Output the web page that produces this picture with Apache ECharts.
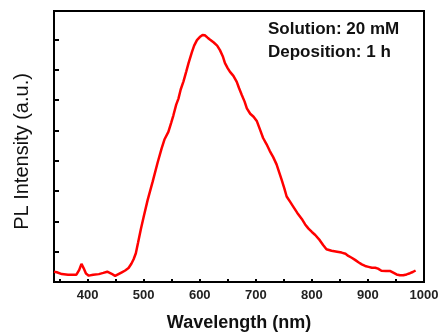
<!DOCTYPE html>
<html>
<head>
<meta charset="utf-8">
<script src="https://cdn.jsdelivr.net/npm/echarts@6/dist/echarts.min.js"></script>
<style>html,body{margin:0;padding:0;background:#fff}#c{width:441px;height:332px}</style>
</head>
<body>
<div id="c"></div>
<script>
const wavelength = [340,345,354,365,380,385,389,393,397,402,410,420,428,435,442,449,455,461,467,473,478,482,486,490,495,500,507,516,525,532,537,544,549,553,558,562,566,571,576,580,586,590,595,600,605,609,614,618,625,631,636,641,645,650,654,660,666,670,675,680,684,690,696,702,708,713,719,725,731,737,742,746,751,755,761,767,774,782,788,794,800,806,814,820,826,835,845,853,860,865,871,877,883,889,895,901,907,913,918,924,932,940,946,951,957,963,969,975,980,985];
const intensity = [0.34,0.32,0.26,0.24,0.24,0.4,0.6,0.45,0.28,0.21,0.24,0.26,0.3,0.34,0.28,0.2,0.26,0.32,0.38,0.46,0.6,0.75,0.95,1.3,1.75,2.15,2.7,3.31,3.95,4.41,4.7,4.95,5.25,5.5,5.85,6.05,6.35,6.62,6.95,7.22,7.58,7.8,7.98,8.08,8.15,8.14,8.06,8.0,7.9,7.8,7.65,7.45,7.22,7.05,6.93,6.8,6.6,6.4,6.17,5.95,5.73,5.55,5.45,5.3,5.0,4.75,4.55,4.32,4.12,3.88,3.6,3.38,3.08,2.82,2.65,2.48,2.28,2.08,1.9,1.76,1.65,1.55,1.38,1.22,1.08,1.03,1.0,0.97,0.93,0.86,0.8,0.73,0.65,0.58,0.53,0.5,0.47,0.47,0.44,0.37,0.36,0.36,0.3,0.25,0.22,0.22,0.25,0.29,0.33,0.38];
const xTitle = 'Wavelength (nm)';
const yTitle = 'PL Intensity (a.u.)';
const notes = ['Solution: 20 mM', 'Deposition: 1 h'];

const chart = echarts.init(document.getElementById('c'), null, {renderer: 'canvas'});
const font = '"Liberation Sans", Arial, sans-serif';
chart.setOption({
  animation: false,
  grid: {left: 54, right: 17, top: 11, bottom: 50, outerBoundsMode: 'none', containLabel: false,
         show: true, borderColor: '#000', borderWidth: 2, backgroundColor: 'transparent'},
  xAxis: {
    type: 'value', min: 340, max: 1000, minInterval: 50, maxInterval: 50,
    axisLine: {show: true, onZero: false, lineStyle: {color: '#000', width: 2}},
    axisTick: {show: true, inside: true, length: 3, lineStyle: {color: '#000', width: 2}},
    splitLine: {show: false},
    axisLabel: {
      color: '#222', fontFamily: font, fontWeight: 'bold', fontSize: 13, margin: 7,
      showMinLabel: false,
      formatter: v => (v % 100 === 0 ? String(v) : '')
    },
    name: xTitle, nameLocation: 'middle', nameGap: 32,
    nameTextStyle: {color: '#111', fontFamily: font, fontWeight: 'bold', fontSize: 18, verticalAlign: 'top'}
  },
  yAxis: {
    type: 'value', min: 0, max: 8.94, minInterval: 1, maxInterval: 1,
    axisLine: {show: true, lineStyle: {color: '#000', width: 2}},
    axisTick: {show: true, inside: true, length: 5, lineStyle: {color: '#000', width: 2}},
    axisLabel: {show: false},
    splitLine: {show: false},
    name: yTitle, nameLocation: 'middle', nameGap: 22, nameRotate: 90,
    nameTextStyle: {color: '#111', fontFamily: font, fontSize: 20, padding: [0, 10, 0, 0]}
  },
  series: [{
    type: 'line', data: wavelength.map((w, i) => [w, intensity[i]]),
    showSymbol: false, smooth: false,
    lineStyle: {color: '#ff0000', width: 2.5}
  }],
  graphic: [
    {type: 'text', left: 268, top: 21, style: {text: notes[0], fill: '#111', font: 'bold 17px ' + font}},
    {type: 'text', left: 268, top: 44, style: {text: notes[1], fill: '#111', font: 'bold 17px ' + font}}
  ]
});
</script>
</body>
</html>
